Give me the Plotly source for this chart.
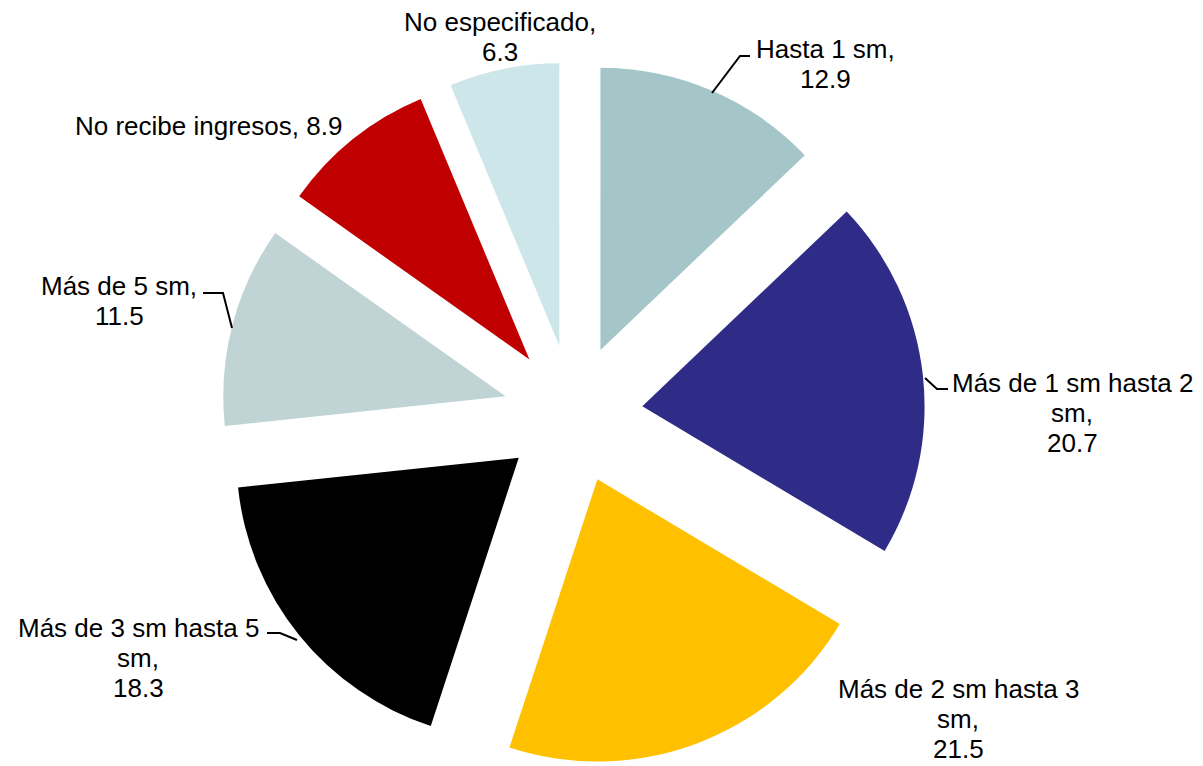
import plotly.graph_objects as go

# ---- data ----
categories = ["Hasta 1 sm", "Más de 1 sm hasta 2 sm", "Más de 2 sm hasta 3 sm",
              "Más de 3 sm hasta 5 sm", "Más de 5 sm", "No recibe ingresos", "No especificado"]
values = [12.9, 20.7, 21.5, 18.3, 11.5, 8.9, 6.3]
colors = ["#A5C6C8", "#2E2C86", "#FFC000", "#000000", "#C0D3D5", "#C00000", "#CDE6EA"]

# label text split into display lines (last line is the value)
label_lines = [
    ["Hasta 1 sm,"],
    ["Más de 1 sm hasta 2", "sm,"],
    ["Más de 2 sm hasta 3", "sm,"],
    ["Más de 3 sm hasta 5", "sm,"],
    ["Más de 5 sm,"],
    None,  # single line "No recibe ingresos, 8.9"
    ["No especificado,"],
]

OFF = 8  # page body margin
W, H = 1203 - OFF, 766 - OFF
MT, MB = 54, 0
PH = H - MT - MB


def paper(x, y):
    # x, y: screen pixel position -> paper coordinates
    return (x - OFF) / W, (H - MB - (y - OFF)) / PH


# label positions (screen pixel centers of first line) and line spacing
label_pos = [(825, 49), (1072, 383), (958, 689), (138, 628), (119, 286), (208, 126), (500, 22)]
LINE_STEP = 30

leaders = [
    [(712, 93), (740, 56), (750, 56)],
    [(925, 378), (937, 389), (948, 389)],
    None,
    [(267, 633), (280, 633), (297, 640)],
    [(203, 293), (223, 293), (232, 328)],
    None,
    None,
]

CX = 573 - OFF
BOX = 708

fig = go.Figure(go.Pie(
    labels=categories,
    values=values,
    sort=False,
    direction="clockwise",
    rotation=0,
    pull=[0.247] * len(values),
    marker=dict(colors=colors, line=dict(width=0)),
    textinfo="none",
    hoverinfo="label+value",
    domain=dict(x=[(CX - BOX / 2) / W, (CX + BOX / 2) / W], y=[0, 1]),
    showlegend=False,
))

font = dict(family="Liberation Sans, Arial, sans-serif", size=26, color="#000000")
annotations = []
for i, (cat, val) in enumerate(zip(categories, values)):
    lines = label_lines[i]
    if lines is None:
        lines = [f"{cat}, {val}"]
    else:
        lines = lines + [f"{val}"]
    x0, y0 = label_pos[i]
    for k, t in enumerate(lines):
        xp, yp = paper(x0, y0 + k * LINE_STEP)
        annotations.append(dict(x=xp, y=yp, xref="paper", yref="paper", text=t,
                                showarrow=False, xanchor="center", yanchor="middle",
                                font=font))

shapes = []
for pts in leaders:
    if not pts:
        continue
    path = ""
    for j, (px, py) in enumerate(pts):
        xp, yp = paper(px, py)
        path += ("M" if j == 0 else "L") + f"{xp},{yp} "
    shapes.append(dict(type="path", path=path.strip(), xref="paper", yref="paper",
                       line=dict(color="#000000", width=2)))

fig.update_layout(
    width=W, height=H,
    margin=dict(l=0, r=0, t=MT, b=MB),
    paper_bgcolor="white", plot_bgcolor="white",
    annotations=annotations, shapes=shapes,
)

fig.write_html("out.html")
